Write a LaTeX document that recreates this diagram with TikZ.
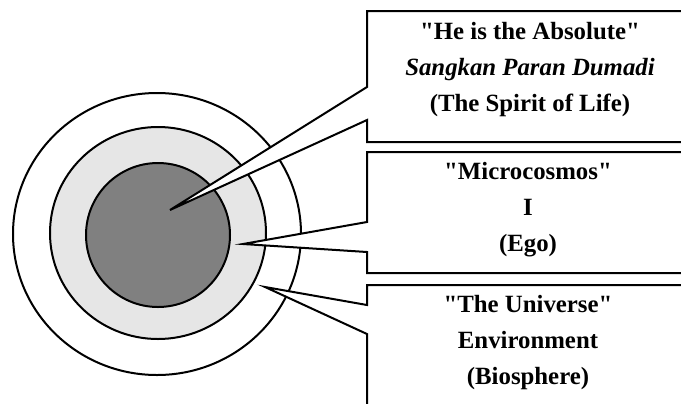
\documentclass[tikz,border=0pt]{standalone}
\usepackage{fontspec}
\setmainfont{Liberation Serif}
\definecolor{ringgray}{HTML}{E6E6E6}
\definecolor{coregray}{HTML}{808080}
\newcommand{\qt}{\textquotedbl}
\tikzset{
  ring/.style={draw=black,line width=1pt},
  callout/.style={draw=black,fill=white,line width=1pt,line join=miter},
  label/.style={align=center,font=\fontsize{12.4}{18}\selectfont\bfseries}
}
\begin{document}
\begin{tikzpicture}[x=0.5pt,y=-0.5pt]
  \useasboundingbox (0,0) rectangle (681,403);
  \clip (0,0) rectangle (681,403);
  % the three spheres
  \draw[ring,fill=white] (157,234) ellipse [x radius=144,y radius=141];
  \draw[ring,fill=ringgray] (158,233) ellipse [x radius=108,y radius=106];
  \draw[ring,fill=coregray] (158,235) ellipse [x radius=72,y radius=72];
  \coordinate (spirit) at (170,210);
  \coordinate (ego) at (243,244);
  \coordinate (world) at (265,287);
  % callouts
  \draw[callout] (367,87) -- (367,11) -- (700,11) -- (700,142) -- (367,142) -- (367,120) -- (spirit) -- cycle;
  \draw[callout] (367,222) -- (367,152) -- (700,152) -- (700,273) -- (367,273) -- (367,252) -- (ego) -- cycle;
  \draw[callout] (367,305) -- (367,285) -- (700,285) -- (700,420) -- (367,420) -- (367,334) -- (world) -- cycle;
  \node[label] (absolute) at (530,70) {\qt He is the Absolute\qt\\\textit{Sangkan Paran Dumadi}\\(The Spirit of Life)};
  \node[label] (micro) at (528,210) {\qt Microcosmos\qt\\I\\(Ego)};
  \node[label] (universe) at (528,343) {\qt The Universe\qt\\Environment\\(Biosphere)};
\end{tikzpicture}
\end{document}
